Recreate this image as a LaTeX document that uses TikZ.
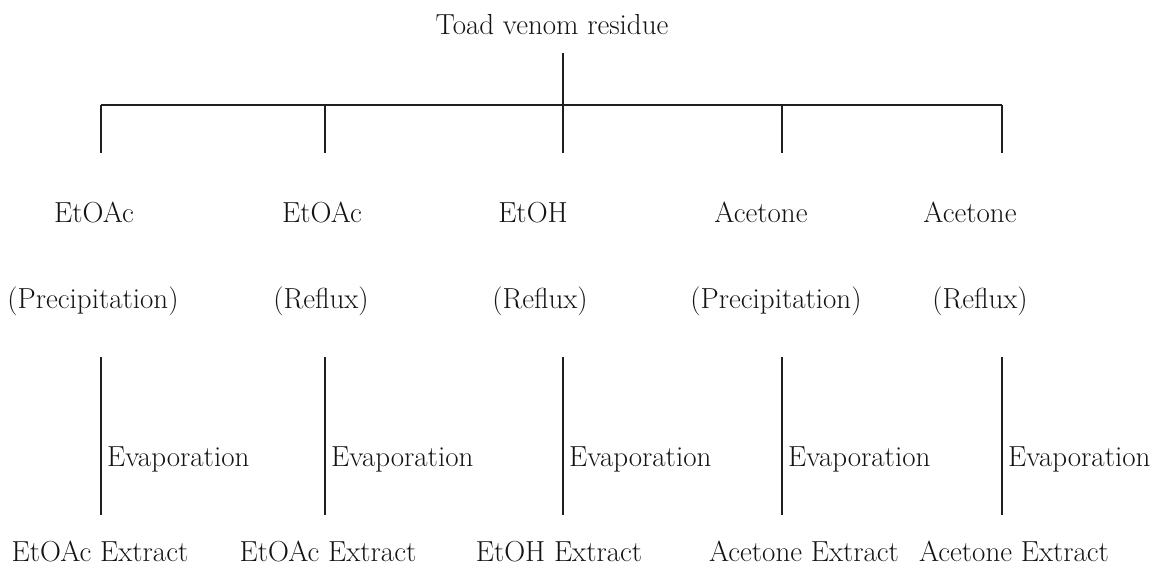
\documentclass[tikz,border=0pt]{standalone}
\usepackage{fontspec}
\begin{document}
\begin{tikzpicture}[x=1pt,y=-1pt,
  lbl/.style={anchor=base,inner sep=0pt,text=black!92,font=\fontsize{29}{32}\selectfont},
  evap/.style={anchor=base west,inner sep=0pt,text=black!92,font=\fontsize{29}{32}\selectfont},
  ln/.style={line width=2pt,draw=black!88}]
\useasboundingbox (0,0) rectangle (1162,572);
\node[lbl] (top) at (552,35) {Toad venom residue};
\coordinate (t0) at (563,53);
\coordinate (t1) at (563,105);
\draw[ln] (t0) -- (t1);
\coordinate (b1) at (101,105);
\coordinate (b5) at (1002,105);
\draw[ln] (b1) -- (b5);
\foreach \i/\x in {1/101,2/325,3/563,4/782,5/1002}{
  \coordinate (h\i) at (\x,105);
  \coordinate (d\i) at (\x,153);
  \draw[ln] (h\i) -- (d\i);
  \coordinate (e\i) at (\x,357);
  \coordinate (f\i) at (\x,515);
  \draw[ln] (e\i) -- (f\i);
  \node[evap] (ev\i) at (\x+6,466) {Evaporation};
}
\node[lbl] (s1) at (94,223) {EtOAc};
\node[lbl] (s2) at (322,223) {EtOAc};
\node[lbl] (s3) at (533,223) {EtOH};
\node[lbl] (s4) at (761,223) {Acetone};
\node[lbl] (s5) at (970,223) {Acetone};
\node[lbl] (m1) at (93,308) {(Precipitation)};
\node[lbl] (m2) at (321,308) {(Reflux)};
\node[lbl] (m3) at (540,308) {(Reflux)};
\node[lbl] (m4) at (776,308) {(Precipitation)};
\node[lbl] (m5) at (980,308) {(Reflux)};
\node[lbl] (x1) at (100,561) {EtOAc Extract};
\node[lbl] (x2) at (328,561) {EtOAc Extract};
\node[lbl] (x3) at (559,561) {EtOH Extract};
\node[lbl] (x4) at (804,561) {Acetone Extract};
\node[lbl] (x5) at (1014,561) {Acetone Extract};
\end{tikzpicture}
\end{document}
